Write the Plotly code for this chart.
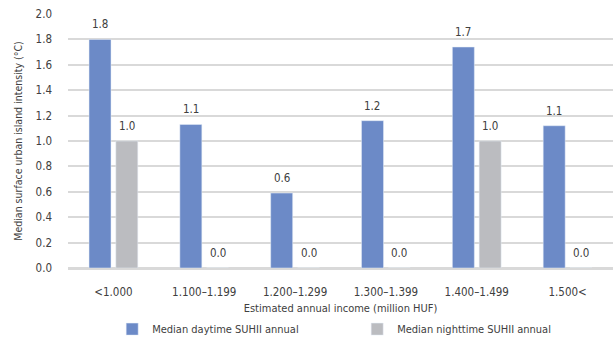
import plotly.graph_objects as go

categories = ["<1.000", "1.100–1.199", "1.200–1.299", "1.300–1.399", "1.400–1.499", "1.500<"]
daytime = [1.80, 1.13, 0.59, 1.16, 1.74, 1.12]
nighttime = [1.0, 0.0, 0.0, 0.0, 1.0, 0.0]
y_ticks = [0.0, 0.2, 0.4, 0.6, 0.8, 1.0, 1.2, 1.4, 1.6, 1.8, 2.0]

FONT = "DejaVu Sans Condensed, sans-serif"
TXT = "#404040"
FS = 11

fig = go.Figure()
fig.add_trace(go.Bar(x=categories, y=daytime, name="Median daytime SUHII annual",
                     marker_color="#6C8AC7"))
fig.add_trace(go.Bar(x=categories, y=nighttime, name="Median nighttime SUHII annual",
                     marker_color="#BBBCC0"))

# value labels above bars
for series, shift in ((daytime, -13.5), (nighttime, 13.5)):
    for c, v in zip(categories, series):
        fig.add_annotation(x=c, y=v, xref="x", yref="y", text=f"{v:.1f}",
                           showarrow=False, xshift=shift, yanchor="bottom", yshift=6,
                           font=dict(family=FONT, size=FS + 0.5, color=TXT))

fig.update_layout(
    width=613, height=340,
    margin=dict(l=68, r=0, t=14, b=72),
    paper_bgcolor="white", plot_bgcolor="white",
    font=dict(family=FONT, size=FS, color=TXT),
    barmode="group", bargap=0.41, bargroupgap=0.18,
    showlegend=True,
    legend=dict(orientation="h", xref="container", yref="container",
                x=0.183, xanchor="left", y=0.032, yanchor="middle",
                entrywidth=200, entrywidthmode="pixels", itemwidth=30,
                font=dict(size=FS, color=TXT, family=FONT)),
    xaxis=dict(
        title=dict(text="Estimated annual income (million HUF)", standoff=8,
                   font=dict(size=FS, color=TXT, family=FONT)),
        tickfont=dict(size=FS + 0.5, color=TXT, family=FONT),
        showgrid=False, showline=True, linecolor="#D9D9D9", linewidth=1.5,
        ticks="", zeroline=False, ticklabelstandoff=12, automargin=False,
    ),
    yaxis=dict(
        title=dict(text="Median surface urban island intensity (°C)", standoff=10,
                   font=dict(size=10.5, color=TXT, family=FONT)),
        range=[0, 2.0], tickvals=y_ticks, tickformat=".1f",
        tickfont=dict(size=FS + 0.5, color=TXT, family=FONT),
        showgrid=True, gridcolor="#D9D9D9", gridwidth=1.5,
        zeroline=True, zerolinecolor="#D9D9D9", zerolinewidth=1.5,
        ticks="", ticklabelstandoff=15, automargin=False,
    ),
)

fig.write_html("out.html")
